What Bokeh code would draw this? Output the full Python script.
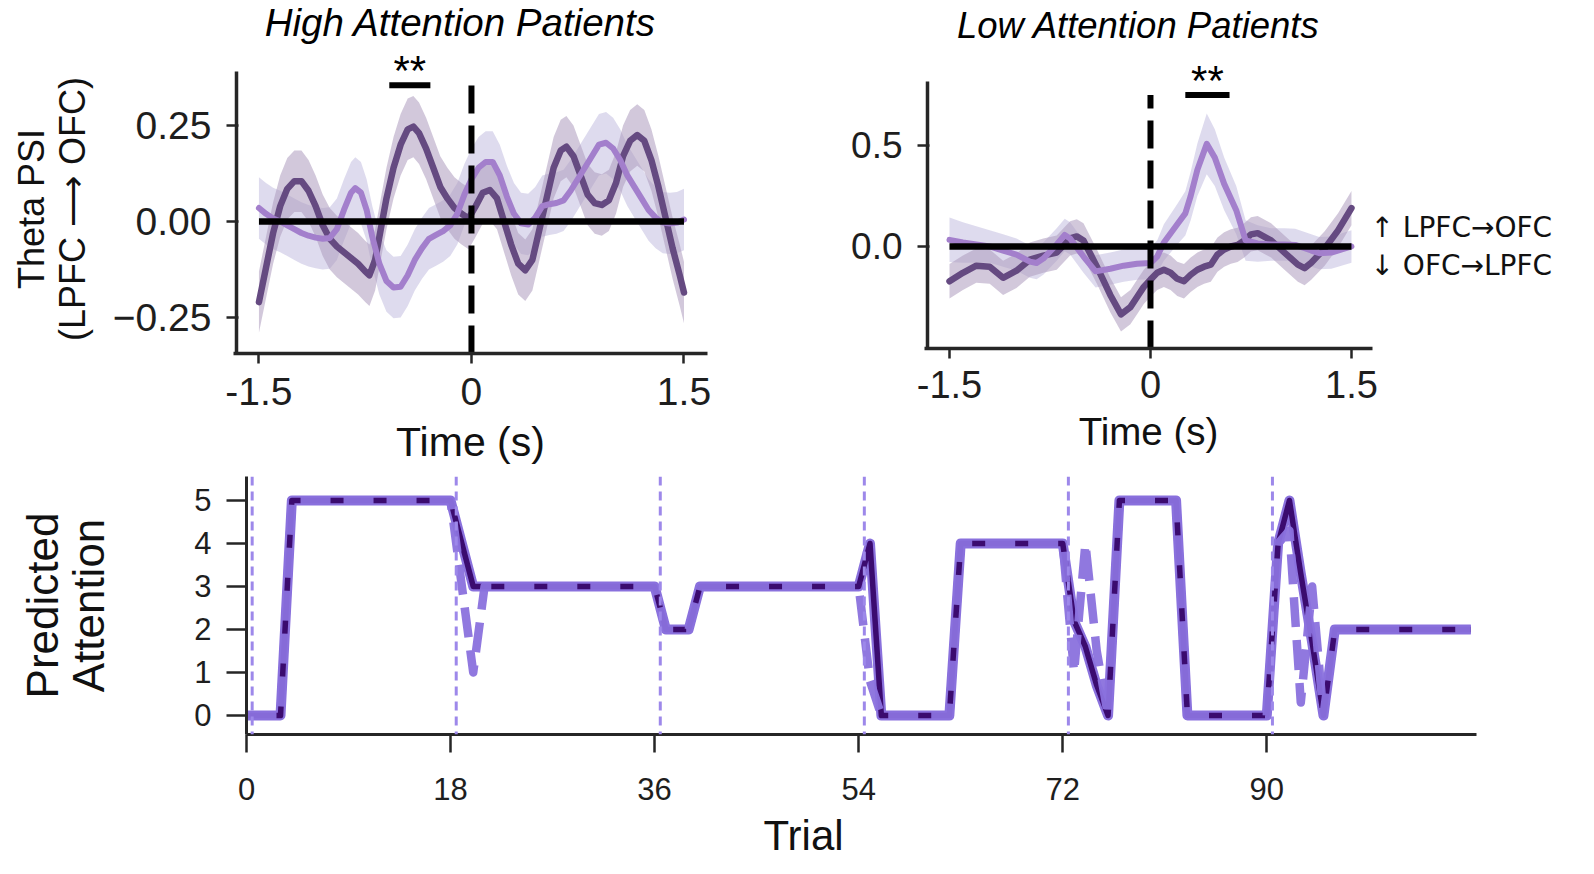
import numpy as np
from bokeh.plotting import figure
from bokeh.layouts import column, row
from bokeh.models import Range1d, FixedTicker, Span, LinearAxis, Title
from bokeh.core.properties import value
from bokeh.embed import file_html
from bokeh.resources import INLINE

# ---------------- data: High Attention patients ----------------
ha_dark_t = [-1.50, -1.45, -1.40, -1.35, -1.30, -1.25, -1.20, -1.15, -1.10, -1.05,
             -1.00, -0.95, -0.90, -0.85, -0.80, -0.75, -0.72, -0.68, -0.64, -0.60,
             -0.55, -0.50, -0.45, -0.41, -0.37, -0.32, -0.27, -0.22, -0.17, -0.12,
             -0.07, -0.02, 0.03, 0.08, 0.13, 0.18, 0.23, 0.28, 0.33, 0.38,
             0.43, 0.48, 0.53, 0.58, 0.63, 0.67, 0.72, 0.77, 0.82, 0.87,
             0.92, 0.97, 1.02, 1.07, 1.12, 1.17, 1.22, 1.27, 1.32, 1.37,
             1.42, 1.47, 1.50]
ha_dark_v = [-0.21, -0.12, -0.03, 0.04, 0.085, 0.105, 0.105, 0.08, 0.04, -0.01,
             -0.045, -0.065, -0.08, -0.095, -0.11, -0.13, -0.14, -0.10, -0.02, 0.06,
             0.14, 0.20, 0.24, 0.247, 0.23, 0.19, 0.14, 0.09, 0.06, 0.035,
             0.02, 0.008, 0.04, 0.075, 0.082, 0.06, 0.0, -0.06, -0.11, -0.127,
             -0.10, -0.02, 0.06, 0.14, 0.185, 0.195, 0.17, 0.12, 0.07, 0.048,
             0.043, 0.055, 0.10, 0.17, 0.21, 0.225, 0.21, 0.16, 0.09, 0.01,
             -0.07, -0.14, -0.185]
ha_dark_err = 0.08

ha_light_t = [-1.50, -1.45, -1.40, -1.35, -1.30, -1.25, -1.20, -1.15, -1.10, -1.05,
              -1.00, -0.95, -0.90, -0.85, -0.82, -0.78, -0.74, -0.70, -0.65, -0.60,
              -0.55, -0.50, -0.45, -0.40, -0.35, -0.30, -0.25, -0.20, -0.15, -0.10,
              -0.05, 0.00, 0.05, 0.10, 0.15, 0.20, 0.25, 0.30, 0.35, 0.40,
              0.45, 0.50, 0.55, 0.60, 0.65, 0.70, 0.75, 0.80, 0.85, 0.90,
              0.95, 1.00, 1.05, 1.10, 1.15, 1.20, 1.25, 1.30, 1.35, 1.40,
              1.45, 1.50]
ha_light_v = [0.035, 0.02, 0.008, 0.0, -0.01, -0.02, -0.03, -0.037, -0.042, -0.045,
              -0.043, -0.02, 0.03, 0.075, 0.087, 0.075, 0.03, -0.04, -0.11, -0.155,
              -0.172, -0.17, -0.14, -0.10, -0.07, -0.045, -0.035, -0.025, -0.01, 0.02,
              0.07, 0.11, 0.14, 0.155, 0.155, 0.12, 0.065, 0.02, -0.005, -0.008,
              0.01, 0.04, 0.045, 0.048, 0.055, 0.08, 0.11, 0.14, 0.17, 0.20,
              0.205, 0.19, 0.16, 0.12, 0.09, 0.06, 0.03, 0.01, -0.003, -0.005,
              -0.003, 0.005]
ha_light_err = 0.08
ha_sig_t = [-0.58, -0.29]
ha_sig_y = 0.355
ha_onset_top = 0.36

# ---------------- data: Low Attention patients ----------------
la_dark_t = [-1.5, -1.4, -1.3, -1.2, -1.1, -1.0, -0.9, -0.8, -0.7, -0.6,
             -0.55, -0.5, -0.4, -0.3, -0.22, -0.15, -0.1, -0.05, 0.0, 0.05,
             0.1, 0.15, 0.2, 0.25, 0.3, 0.35, 0.4, 0.45, 0.5, 0.55,
             0.6, 0.65, 0.7, 0.75, 0.8, 0.9, 1.0, 1.1, 1.15, 1.2,
             1.3, 1.4, 1.5]
la_dark_v = [-0.172, -0.13, -0.095, -0.10, -0.155, -0.12, -0.065, -0.045, -0.03, 0.04,
             0.05, 0.03, -0.10, -0.24, -0.336, -0.30, -0.25, -0.20, -0.164, -0.13,
             -0.115, -0.13, -0.16, -0.172, -0.14, -0.115, -0.10, -0.09, -0.04, -0.015,
             0.0, 0.008, 0.03, 0.06, 0.066, 0.03, -0.03, -0.09, -0.107, -0.08,
             -0.01, 0.08, 0.19]
la_dark_err = 0.085

la_light_t = [-1.5, -1.4, -1.3, -1.2, -1.1, -1.0, -0.9, -0.85, -0.8, -0.7,
              -0.64, -0.6, -0.5, -0.41, -0.3, -0.2, -0.1, 0.0, 0.05, 0.1,
              0.2, 0.26, 0.3, 0.35, 0.42, 0.48, 0.55, 0.64, 0.71, 0.8,
              0.9, 1.0, 1.08, 1.2, 1.26, 1.35, 1.5]
la_light_v = [0.033, 0.02, 0.01, 0.0, -0.02, -0.04, -0.075, -0.082, -0.06, 0.01,
              0.057, 0.04, -0.05, -0.123, -0.11, -0.095, -0.085, -0.082, -0.05, 0.02,
              0.11, 0.164, 0.25, 0.38, 0.508, 0.44, 0.31, 0.18, 0.03, 0.015,
              0.01, 0.01, 0.008, -0.02, -0.033, -0.03, 0.0]
la_light_err = [0.11, 0.1, 0.09, 0.08, 0.08, 0.08, 0.08, 0.08, 0.08, 0.08,
                0.08, 0.08, 0.08, 0.08, 0.08, 0.08, 0.08, 0.08, 0.08, 0.09,
                0.1, 0.11, 0.12, 0.13, 0.15, 0.14, 0.13, 0.12, 0.1, 0.09,
                0.08, 0.08, 0.08, 0.08, 0.08, 0.08, 0.08]
la_sig_t = [0.26, 0.59]
la_sig_y = 0.75
la_onset_top = 0.75

zero_t = [-1.5, 1.5]
direction_ticks = [0.094, -0.094]
direction_labels = ["\u2191 LPFC\u2192OFC", "\u2193 OFC\u2192LPFC"]

# ---------------- data: predicted attention per trial ----------------
trials = list(range(0, 109))
attn_true = [0, 0, 0, 0, 5, 5, 5, 5, 5, 5,
             5, 5, 5, 5, 5, 5, 5, 5, 5, 4,
             3, 3, 3, 3, 3, 3, 3, 3, 3, 3,
             3, 3, 3, 3, 3, 3, 3, 2, 2, 2,
             3, 3, 3, 3, 3, 3, 3, 3, 3, 3,
             3, 3, 3, 3, 3, 4, 0, 0, 0, 0,
             0, 0, 0, 4, 4, 4, 4, 4, 4, 4,
             4, 4, 4, 2.2, 1.6, 0.7, 0, 5, 5, 5,
             5, 5, 5, 0, 0, 0, 0, 0, 0, 0,
             0, 4, 5, 3.3, 1.7, 0, 2, 2, 2, 2,
             2, 2, 2, 2, 2, 2, 2, 2, 2]
attn_pred = [0, 0, 0, 0, 5, 5, 5, 5, 5, 5,
             5, 5, 5, 5, 5, 5, 5, 5, 5, 3,
             1, 3, 3, 3, 3, 3, 3, 3, 3, 3,
             3, 3, 3, 3, 3, 3, 3, 2, 2, 2,
             3, 3, 3, 3, 3, 3, 3, 3, 3, 3,
             3, 3, 3, 3, 3, 0.8, 0, 0, 0, 0,
             0, 0, 0, 4, 4, 4, 4, 4, 4, 4,
             4, 4, 4, 1, 4, 1.5, 0, 5, 5, 5,
             5, 5, 5, 0, 0, 0, 0, 0, 0, 0,
             0, 4, 4.3, 0.3, 3, 0, 2, 2, 2, 2,
             2, 2, 2, 2, 2, 2, 2, 2, 2]
block_bounds = [0.5, 18.5, 36.5, 54.5, 72.5, 90.5]
trial_ticks = [0, 18, 36, 54, 72, 90]
attn_ticks = [0, 1, 2, 3, 4, 5]

# ---------------- styling ----------------
FONT = "Liberation Sans"
AXC = "#262626"
DARK = "#654a81"
LIGHT = "#a37fcc"
DARK_BAND = "#ad9bbd"
LIGHT_BAND = "#c3bde0"


def clean(p):
    p.xgrid.visible = False
    p.ygrid.visible = False
    p.outline_line_color = None
    p.background_fill_color = "white"
    p.border_fill_color = "white"
    for ax in (p.xaxis[0], p.yaxis[0]):
        ax.axis_line_color = AXC
        ax.major_tick_line_color = AXC
        ax.minor_tick_line_color = None
        ax.major_tick_in = 0
        ax.major_label_text_font = FONT
        ax.major_label_text_color = "#1e1e1e"
        ax.axis_label_text_font = FONT
        ax.axis_label_text_font_style = "normal"
        ax.axis_label_text_color = "#111111"


def header(width, height, xr, left, right, title, tsize):
    h = figure(width=width, height=height, x_range=xr, y_range=Range1d(height, 0),
               output_backend="svg", toolbar_location=None, min_border=0,
               min_border_left=left, min_border_right=right)
    h.axis.visible = False
    h.grid.visible = False
    h.outline_line_color = None
    h.background_fill_color = "white"
    h.border_fill_color = "white"
    mid = (xr.start + xr.end) / 2
    h.text(x=[mid], y=[title[1]], text=[title[0]], text_align="center",
           text_baseline="middle", x_offset=-10, text_font=value(FONT),
           text_font_style="italic", text_font_size=tsize, text_color="black")
    return h


def psi_panel(p, dt, dv, derr, lt, lv, lerr, sig_t, sig_y, onset_top, spine_top,
              frame_w, star_dy):
    dv = np.array(dv)
    lv = np.array(lv)
    p.varea(x=lt, y1=lv - np.array(lerr), y2=lv + np.array(lerr),
            fill_color=LIGHT_BAND, fill_alpha=0.55)
    p.varea(x=dt, y1=dv - np.array(derr), y2=dv + np.array(derr),
            fill_color=DARK_BAND, fill_alpha=0.55)
    p.line(dt, dv, line_color=DARK, line_width=6.5, line_join="round", line_cap="round")
    p.line(lt, lv, line_color=LIGHT, line_width=6, line_join="round", line_cap="round")
    p.line(zero_t, [0, 0], line_color="black", line_width=6.5)
    p.line([0, 0], [p.y_range.start, onset_top], line_color="black", line_width=6,
           line_dash="28 12")
    p.line(sig_t, [sig_y, sig_y], line_color="black", line_width=6)
    p.text(x=[sum(sig_t) / 2], y=[sig_y], text=["**"], text_align="center",
           text_baseline="middle", y_offset=star_dy, text_font=value(FONT),
           text_font_size="42px", text_color="black")
    # left spine (drawn as a line so the frame can extend above it)
    xs = p.x_range.start + 3 * (p.x_range.end - p.x_range.start) / frame_w
    p.line([xs, xs], [p.y_range.start, spine_top], line_color=AXC, line_width=3.5)
    p.yaxis.axis_line_color = None
    p.yaxis.major_tick_in = 5
    p.yaxis.major_tick_out = 7


# ---- panel 1 (High attention) ----
x1 = Range1d(-1.6796, 1.666)
h1 = header(727, 44, x1, 233, 20, ("High Attention Patients", 22), "38.5px")
p1 = figure(width=727, height=432, x_range=x1, y_range=Range1d(-0.3438, 0.4609),
            output_backend="svg", toolbar_location=None, min_border=0,
            min_border_left=233, min_border_right=20, min_border_top=0,
            min_border_bottom=123)
clean(p1)
p1.xaxis.ticker = FixedTicker(ticks=[-1.5, 0, 1.5])
p1.xaxis.major_label_overrides = {-1.5: "-1.5", 0: "0", 1.5: "1.5"}
p1.yaxis.ticker = FixedTicker(ticks=[-0.25, 0, 0.25])
p1.yaxis.major_label_overrides = {-0.25: "\u22120.25", 0: "0.00", 0.25: "0.25"}
for ax in (p1.xaxis[0], p1.yaxis[0]):
    ax.axis_line_width = 3.5
    ax.major_tick_line_width = 2.5
    ax.major_tick_out = 10
    ax.major_label_text_font_size = "39px"
psi_panel(p1, ha_dark_t, ha_dark_v, ha_dark_err, ha_light_t, ha_light_v,
          ha_light_err, ha_sig_t, ha_sig_y, ha_onset_top, 0.3906, 474, -15)
p1.xaxis.major_label_standoff = 14
p1.yaxis.major_label_standoff = 15
p1.xaxis.axis_label = "Time (s)"
p1.xaxis.axis_label_text_font_size = "41px"
p1.xaxis.axis_label_standoff = 11
p1.yaxis.axis_label = "Theta PSI\u00a0\u00a0\n(LPFC \u27f6 OFC)\u00a0\u00a0"
p1.yaxis.axis_label_text_font_size = "36px"
p1.yaxis.axis_label_text_line_height = 1.0
p1.yaxis.axis_label_standoff = 17

# ---- panel 2 (Low attention) ----
x2 = Range1d(-1.6866, 1.657)
h2 = header(867, 54, x2, 197, 222, ("Low Attention Patients", 25), "36.5px")
p2 = figure(width=867, height=422, x_range=x2, y_range=Range1d(-0.505, 0.9505),
            output_backend="svg", toolbar_location=None, min_border=0,
            min_border_left=197, min_border_right=222, min_border_top=0,
            min_border_bottom=128)
clean(p2)
p2.xaxis.ticker = FixedTicker(ticks=[-1.5, 0, 1.5])
p2.xaxis.major_label_overrides = {-1.5: "-1.5", 0: "0", 1.5: "1.5"}
p2.yaxis.ticker = FixedTicker(ticks=[0, 0.5])
p2.yaxis.major_label_overrides = {0: "0.0", 0.5: "0.5"}
for ax in (p2.xaxis[0], p2.yaxis[0]):
    ax.axis_line_width = 3.5
    ax.major_tick_line_width = 2.5
    ax.major_tick_out = 10
psi_panel(p2, la_dark_t, la_dark_v, la_dark_err, la_light_t, la_light_v,
          la_light_err, la_sig_t, la_sig_y, la_onset_top, 0.8168, 448, -14)
p2.xaxis.major_label_text_font_size = "38px"
p2.yaxis.major_label_text_font_size = "37px"
p2.xaxis.major_label_standoff = 12
p2.yaxis.major_label_standoff = 15
p2.xaxis.axis_label = "Time (s)"
p2.xaxis.axis_label_text_font_size = "38.5px"
p2.xaxis.axis_label_standoff = 9
dir_axis = LinearAxis(ticker=FixedTicker(ticks=direction_ticks),
                      major_label_overrides=dict(zip(direction_ticks, direction_labels)),
                      axis_line_color=None, major_tick_line_color=None,
                      minor_tick_line_color=None, major_tick_out=0, major_tick_in=0,
                      major_label_standoff=-2, major_label_text_font="DejaVu Sans",
                      major_label_text_font_size="28px", major_label_text_color="#111111")
p2.add_layout(dir_axis, "right")

# ---- panel 3 (Predicted attention) ----
p3 = figure(width=1592, height=398, x_range=Range1d(0, 108.5),
            y_range=Range1d(-0.442, 5.558), output_backend="svg",
            toolbar_location=None, min_border=0, min_border_left=246,
            min_border_right=116, min_border_top=0, min_border_bottom=140)
clean(p3)
for b in block_bounds:
    p3.add_layout(Span(location=b, dimension="height", line_color="#9d88ea",
                       line_width=3, line_dash="9 6"))
p3.line(trials, attn_true, line_color="#8a71dd", line_width=10, line_join="round")
p3.line(trials, attn_true, line_color="#3b0b6f", line_width=5.5, line_join="round")
p3.line(trials, attn_pred, line_color="#8a71dd", line_width=8.5, line_join="round",
        line_dash="30 13", line_alpha=0.95)
p3.xaxis.ticker = FixedTicker(ticks=trial_ticks)
p3.yaxis.ticker = FixedTicker(ticks=attn_ticks)
for ax in (p3.xaxis[0], p3.yaxis[0]):
    ax.axis_line_width = 3
    ax.major_tick_line_width = 2.5
    ax.major_label_text_font_size = "31px"
p3.xaxis.major_tick_out = 18
p3.yaxis.major_tick_out = 20
p3.xaxis.major_label_standoff = 25
p3.yaxis.major_label_standoff = 15
p3.yaxis.axis_label = "Predicted\nAttention"
p3.yaxis.axis_label_text_font_size = "44px"
p3.yaxis.axis_label_text_line_height = 0.95
p3.yaxis.axis_label_standoff = 78
p3.add_layout(Title(text="Trial", align="left", offset=517, text_font=FONT,
                    text_font_size="42px", text_font_style="normal",
                    text_color="#111111", standoff=14), "below")

layout = column(row(column(h1, p1, spacing=0), column(h2, p2, spacing=0), spacing=0),
                p3, spacing=0)
open("out.html", "w").write(file_html(layout, INLINE))
